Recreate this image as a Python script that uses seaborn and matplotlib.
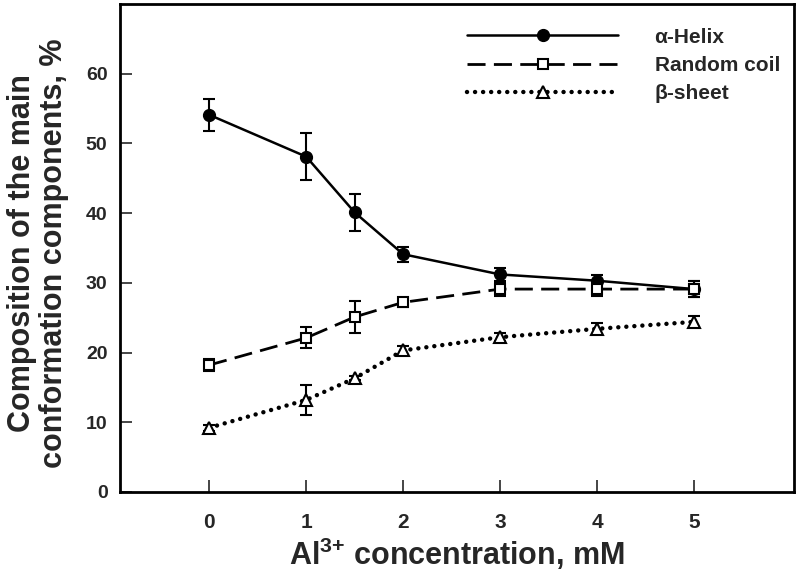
import matplotlib
matplotlib.use("Agg")
import matplotlib.pyplot as plt
import pandas as pd
import seaborn as sns

# data
conc = [0, 1, 1.5, 2, 3, 4, 5]
helix = [54.1, 48.1, 40.1, 34.1, 31.2, 30.3, 29.1]
helix_err = [2.3, 3.4, 2.6, 1.05, 0.9, 0.8, 1.1]
coil = [18.2, 22.1, 25.1, 27.2, 29.1, 29.1, 29.1]
coil_err = [0.9, 1.5, 2.3, 0.6, 1.0, 1.0, 1.15]
sheet = [9.2, 13.2, 16.3, 20.3, 22.2, 23.4, 24.4]
sheet_err = [0.4, 2.2, 0.3, 0.6, 0.6, 0.8, 0.8]
labels = ["\u03b1-Helix", "Random coil", "\u03b2-sheet"]
xticks = [0, 1, 2, 3, 4, 5]
yticks = [0, 10, 20, 30, 40, 50, 60]

sns.set_style("ticks")
plt.rcParams["font.family"] = ["Liberation Sans", "DejaVu Sans"]
plt.rcParams["font.weight"] = "bold"
plt.rcParams["mathtext.fontset"] = "custom"
plt.rcParams["mathtext.bf"] = "Liberation Sans:bold"
plt.rcParams["mathtext.rm"] = "Liberation Sans:bold"
plt.rcParams["mathtext.default"] = "bf"

df = pd.DataFrame({"conc": conc, "helix": helix, "coil": coil, "sheet": sheet})

fig = plt.figure(figsize=(8, 5.72), dpi=100)
ax = fig.add_axes([0.15, 0.14, 0.8425, 0.853])

# error bars under the markers
for ys, es in [(helix, helix_err), (coil, coil_err), (sheet, sheet_err)]:
    ax.errorbar(conc, ys, yerr=es, fmt="none", ecolor="black", elinewidth=1.5,
                capsize=4.3, capthick=1.5, zorder=2)

sns.lineplot(data=df, x="conc", y="helix", ax=ax, color="black", linewidth=1.8,
             marker="o", markersize=8.5, markerfacecolor="black",
             markeredgecolor="black", markeredgewidth=1, label=labels[0], zorder=3)
sns.lineplot(data=df, x="conc", y="coil", ax=ax, color="black", linewidth=2,
             linestyle=(0, (6.5, 3)), marker="s", markersize=7.5,
             markerfacecolor="white", markeredgecolor="black",
             markeredgewidth=1.5, label=labels[1], zorder=3)
sns.lineplot(data=df, x="conc", y="sheet", ax=ax, color="black", linewidth=3.2,
             linestyle=(0, (0.01, 1.8)), dash_capstyle="round", marker="^",
             markersize=8.5, markerfacecolor="white", markeredgecolor="black",
             markeredgewidth=1.5, label=labels[2], zorder=3)

ax.set_xlim(-0.92, 6.03)
ax.set_ylim(0, 70)
ax.set_xticks(xticks)
ax.set_yticks(yticks)
ax.set_xticklabels([str(t) for t in xticks], fontsize=15, fontweight="bold")
ax.set_yticklabels([str(t) for t in yticks], fontsize=14, fontweight="bold")
ax.tick_params(axis="x", direction="in", length=8.5, width=1.2, pad=15)
ax.tick_params(axis="y", direction="in", length=8.5, width=1.2, pad=9)
for s in ax.spines.values():
    s.set_linewidth(2)
    s.set_color("black")

ax.set_xlabel(r"Al$^{3{+}}$ concentration, mM", fontsize=22,
              fontweight="bold", labelpad=3)
ax.set_ylabel("Composition of the main\nconformation components, %", fontsize=22,
              fontweight="bold", linespacing=1.1)
ax.yaxis.set_label_coords(-0.075, 0.49)

h, l = ax.get_legend_handles_labels()
ax.legend(h, l, loc="upper right", bbox_to_anchor=(1.007, 0.99), frameon=False,
          handlelength=7.25, handletextpad=1.75, labelspacing=0.45, numpoints=1,
          prop={"family": "Liberation Sans", "weight": "bold", "size": 15})

fig.savefig("out.png", dpi=100)
